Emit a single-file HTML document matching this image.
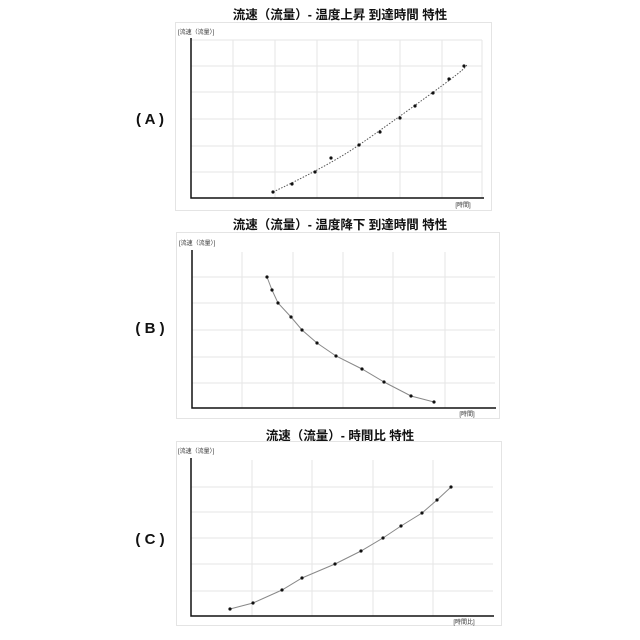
<!DOCTYPE html>
<html><head><meta charset="utf-8"><style>
html,body{margin:0;padding:0;background:#fff;}
svg{display:block;}
text{font-family:"Liberation Sans","Noto Sans CJK JP",sans-serif;}
</style></head><body>
<svg width="640" height="640" viewBox="0 0 640 640" xmlns="http://www.w3.org/2000/svg">
<g font-weight="bold" font-size="12.5" fill="#111" text-anchor="middle" font-family="'Noto Sans CJK JP',sans-serif">
<text x="340" y="19">流速（流量）- 温度上昇 到達時間 特性</text>
<text x="340" y="229">流速（流量）- 温度降下 到達時間 特性</text>
<text x="340" y="440">流速（流量）- 時間比 特性</text>
</g>
<g font-weight="bold" font-size="15" fill="#111" text-anchor="middle">
<text x="150" y="124">( A )</text>
<text x="150" y="333">( B )</text>
<text x="150" y="544">( C )</text>
</g>
<!-- A -->
<rect x="175.5" y="22.5" width="316" height="188" fill="#fff" stroke="#e4e4e4"/>
<g stroke="#e6e6e6" stroke-width="1">
<path d="M233 40V198M275 40V198M317 40V198M358 40V198M400 40V198M442 40V198M482 40V198"/>
<path d="M191 40H482M191 66H482M191 92H482M191 119H482M191 146H482M191 172H482"/>
</g>
<path d="M191 38V198H484" fill="none" stroke="#111" stroke-width="1.5"/>
<text x="178" y="34" font-size="6" fill="#333">[流速（流量）]</text>
<text x="463" y="207" font-size="6" fill="#333" text-anchor="middle">[時間]</text>
<path d="M273 192 Q330 165 359 145 T432 93 T464 66" fill="none" stroke="#555" stroke-dasharray="1.5 1.5"/>
<g fill="#111">
<circle cx="273" cy="192" r="1.6"/><circle cx="292" cy="184" r="1.6"/><circle cx="315" cy="172" r="1.6"/><circle cx="331" cy="158" r="1.6"/><circle cx="359" cy="145" r="1.6"/><circle cx="380" cy="132" r="1.6"/><circle cx="400" cy="118" r="1.6"/><circle cx="415" cy="106" r="1.6"/><circle cx="433" cy="93" r="1.6"/><circle cx="449" cy="79" r="1.6"/><circle cx="464" cy="66" r="1.6"/>
</g>
<!-- B -->
<rect x="176.5" y="232.5" width="323" height="186" fill="#fff" stroke="#e4e4e4"/>
<g stroke="#e6e6e6">
<path d="M242 252V408M293 252V408M343 252V408M393 252V408M445 252V408"/>
<path d="M192 277H495M192 303H495M192 330H495M192 357H495M192 383H495"/>
</g>
<path d="M192 250V408H496" fill="none" stroke="#111" stroke-width="1.5"/>
<text x="179" y="245" font-size="6" fill="#333">[流速（流量）]</text>
<text x="467" y="416" font-size="6" fill="#333" text-anchor="middle">[時間]</text>
<polyline points="267,277 272,290 278,303 291,317 302,330 317,343 336,356 362,369 384,382 411,396 434,402" fill="none" stroke="#888" stroke-width="1"/>
<g fill="#111">
<circle cx="267" cy="277" r="1.6"/><circle cx="272" cy="290" r="1.6"/><circle cx="278" cy="303" r="1.6"/><circle cx="291" cy="317" r="1.6"/><circle cx="302" cy="330" r="1.6"/><circle cx="317" cy="343" r="1.6"/><circle cx="336" cy="356" r="1.6"/><circle cx="362" cy="369" r="1.6"/><circle cx="384" cy="382" r="1.6"/><circle cx="411" cy="396" r="1.6"/><circle cx="434" cy="402" r="1.6"/>
</g>
<!-- C -->
<rect x="176.5" y="441.5" width="325" height="184" fill="#fff" stroke="#e4e4e4"/>
<g stroke="#e6e6e6">
<path d="M252 460V616M312 460V616M373 460V616M433 460V616"/>
<path d="M191 487H493M191 512H493M191 538H493M191 564H493M191 591H493"/>
</g>
<path d="M191 458V616H494" fill="none" stroke="#111" stroke-width="1.5"/>
<text x="178" y="453" font-size="6" fill="#333">[流速（流量）]</text>
<text x="464" y="624" font-size="6" fill="#333" text-anchor="middle">[時間比]</text>
<polyline points="230,609 253,603 282,590 302,578 335,564 361,551 383,538 401,526 422,513 437,500 451,487" fill="none" stroke="#888" stroke-width="1"/>
<g fill="#111">
<circle cx="230" cy="609" r="1.6"/><circle cx="253" cy="603" r="1.6"/><circle cx="282" cy="590" r="1.6"/><circle cx="302" cy="578" r="1.6"/><circle cx="335" cy="564" r="1.6"/><circle cx="361" cy="551" r="1.6"/><circle cx="383" cy="538" r="1.6"/><circle cx="401" cy="526" r="1.6"/><circle cx="422" cy="513" r="1.6"/><circle cx="437" cy="500" r="1.6"/><circle cx="451" cy="487" r="1.6"/>
</g>
</svg>
</body></html>
